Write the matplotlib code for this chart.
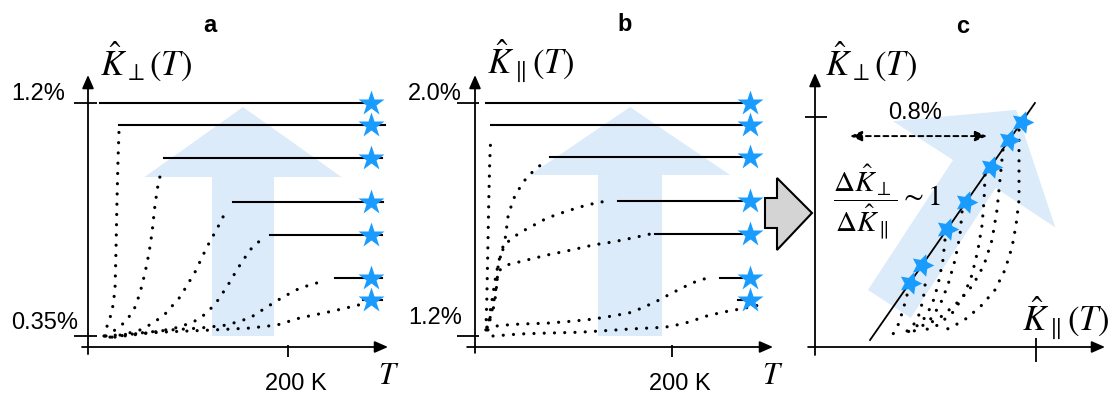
import matplotlib.pyplot as plt
from matplotlib.patches import Polygon, FancyArrow

plt.rcParams['font.family'] = ['Liberation Sans', 'DejaVu Sans']
plt.rcParams['mathtext.fontset'] = 'stix'

# ---------------- data ----------------
# plateau (low-temperature) anisotropy of the seven samples, in %
k_perp_final = [1.20, 1.12, 1.00, 0.84, 0.72, 0.56, 0.48]
k_par_final = [2.00, 1.924, 1.815, 1.664, 1.550, 1.399, 1.324]

# panel a: plateau start / end temperatures (K)
a_plateau_start = [12, 31, 76, 145, 182, 247, 275]
a_plateau_end = [277, 297, 294, 295, 294, 294, 294]
a_star_T = 283

# panel a: dotted onset curves (T in K, K_perp in %)
a_curve_T = [
    [16, 20, 24, 27, 28, 29, 30, 31],
    [18, 30, 39, 47, 52, 57, 61, 64, 67, 70, 74],
    [22, 37, 52, 65, 77, 92, 107, 119, 130, 139],
    [27, 52, 72, 92, 107, 119, 130, 140, 150, 162, 177],
    [24, 52, 82, 112, 139, 162, 179, 195, 212, 232],
    [17, 42, 79, 125, 162, 189, 212, 245, 275],
]
a_curve_K = [
    [0.35, 0.397, 0.438, 0.518, 0.664, 0.846, 0.992, 1.098],
    [0.35, 0.379, 0.408, 0.455, 0.507, 0.580, 0.653, 0.726, 0.828, 0.901, 0.963],
    [0.346, 0.357, 0.372, 0.397, 0.430, 0.492, 0.583, 0.675, 0.748, 0.813],
    [0.346, 0.357, 0.368, 0.383, 0.405, 0.434, 0.481, 0.536, 0.598, 0.664, 0.715],
    [0.346, 0.361, 0.372, 0.379, 0.390, 0.416, 0.456, 0.492, 0.525, 0.547],
    [0.35, 0.357, 0.365, 0.372, 0.379, 0.390, 0.416, 0.441, 0.467],
]

# panel b: plateau start / end temperatures (K)
b_plateau_start = [11, 16, 76, 145, 183, 249, 267]
b_plateau_end = [271, 271, 271, 271, 271, 271, 276]
b_star_T = 279

# panel b: dotted onset curves (T in K, K_par in %)
b_curve_T = [
    [11, 12, 13, 14, 15, 16],
    [12.2, 15.2, 18.3, 20.3, 22.3, 23.4, 27.4, 30.5, 33.5, 38.6, 42.6, 52.8, 62.9, 73.1],
    [12.2, 17.3, 21.3, 25.4, 30.5, 35.5, 45.7, 58.9, 73.1, 93.4, 113.7, 134.0],
    [13.2, 17.3, 20.3, 22.3, 25.4, 32.5, 52.8, 73.1, 93.4, 120.8, 140.1, 160.4, 177.7],
    [12.2, 28.4, 45.7, 73.1, 99.5, 119.8, 138.1, 156.3, 169.5, 184.8, 198.0, 220.3, 235.5],
    [18.3, 45.7, 73.1, 106.6, 140.1, 157.4, 174.6, 191.9, 200.0, 217.3, 234.5, 251.8, 268.0, 288.3],
]
b_curve_K = [
    [1.221, 1.324, 1.495, 1.667, 1.804, 1.883],
    [1.230, 1.262, 1.289, 1.324, 1.382, 1.437, 1.495, 1.530, 1.609, 1.667, 1.694, 1.746, 1.777, 1.804],
    [1.221, 1.324, 1.410, 1.475, 1.513, 1.530, 1.555, 1.579, 1.605, 1.629, 1.650, 1.664],
    [1.221, 1.289, 1.341, 1.392, 1.427, 1.444, 1.461, 1.478, 1.492, 1.513, 1.523, 1.537, 1.550],
    [1.230, 1.237, 1.241, 1.244, 1.251, 1.258, 1.268, 1.279, 1.296, 1.320, 1.344, 1.382, 1.399],
    [1.200, 1.207, 1.210, 1.213, 1.220, 1.224, 1.227, 1.230, 1.234, 1.248, 1.268, 1.282, 1.292, 1.306],
]

# panel c: dotted K_par(T) vs K_perp(T) trajectories
c_curve_par = [
    [1.982, 1.982, 1.964, 1.940, 1.897, 1.837, 1.759, 1.668, 1.578, 1.505],
    [1.885, 1.867, 1.849, 1.819, 1.771, 1.704, 1.614, 1.517, 1.415],
    [1.777, 1.771, 1.759, 1.734, 1.698, 1.650, 1.584, 1.493, 1.384],
    [1.638, 1.626, 1.596, 1.553, 1.505, 1.445, 1.366, 1.294],
    [1.535, 1.523, 1.493, 1.457, 1.397, 1.324, 1.264],
    [1.415, 1.403, 1.372, 1.324, 1.252],
    [1.306, 1.282, 1.252, 1.222],
]
c_curve_perp = [
    [1.164, 0.851, 0.739, 0.641, 0.538, 0.449, 0.382, 0.323, 0.283, 0.261],
    [1.075, 0.941, 0.806, 0.672, 0.561, 0.471, 0.395, 0.332, 0.288],
    [0.963, 0.851, 0.739, 0.628, 0.516, 0.426, 0.350, 0.292, 0.261],
    [0.798, 0.695, 0.583, 0.471, 0.382, 0.315, 0.270, 0.252],
    [0.672, 0.583, 0.471, 0.382, 0.306, 0.265, 0.252],
    [0.471, 0.404, 0.323, 0.270, 0.252],
    [0.426, 0.359, 0.292, 0.252],
]
# linear trend through the end points
c_line_par = [1.083, 2.078]
c_line_perp = [0.225, 1.285]

# ---------------- styling ----------------
STAR = '#1a9cff'
PALE = '#dcebfa'
DOT = dict(color='black', lw=2.3, linestyle=(0, (0.01, 3.2)),
           dash_capstyle='round', clip_on=False, zorder=3)
SOLID = dict(color='black', lw=1.5, clip_on=False, zorder=3)
AX_LW = 1.3
MATH_SIZE = 25
TICK_SIZE = 17
PANEL_SIZE = 17

W, H = 1110, 397
fig = plt.figure(figsize=(W / 100, H / 100), dpi=100)


def panel(px_l, px_r, px_t, px_b, xlim, ylim):
    ax = fig.add_axes([px_l / W, 1 - px_b / H, (px_r - px_l) / W, (px_b - px_t) / H])
    ax.set_xlim(*xlim)
    ax.set_ylim(*ylim)
    ax.axis('off')
    return ax


def axis_arrow(ax, start, end):
    ax.annotate('', xy=end, xytext=start, annotation_clip=False,
                arrowprops=dict(arrowstyle='-|>,head_length=0.8,head_width=0.35',
                                mutation_scale=10, lw=AX_LW, color='black',
                                shrinkA=0, shrinkB=0))


def segment(ax, xs, ys, lw=AX_LW):
    ax.plot(xs, ys, color='black', lw=lw, clip_on=False, solid_capstyle='butt')


# ---------------- panel a ----------------
axa = panel(88, 388, 75, 347, (0, 300), (0.30987, 1.30215))
axa.add_patch(FancyArrow(155, 0.35, 0, 0.835, width=62, head_width=197,
                         head_length=0.255, length_includes_head=True,
                         fc=PALE, ec='none', zorder=0))
axis_arrow(axa, (-6, 0.30987), (300, 0.30987))
axis_arrow(axa, (0, 0.284), (0, 1.302))
for k in (1.2, 0.35):
    segment(axa, [-14, 9], [k, k])
segment(axa, [200, 200], [0.317, 0.273])
for T, K in zip(a_curve_T, a_curve_K):
    axa.plot(T, K, **DOT)
for k, t0, t1 in zip(k_perp_final, a_plateau_start, a_plateau_end):
    axa.plot([t0, t1], [k, k], **SOLID)
axa.plot([a_star_T] * 7, k_perp_final, ls='none', marker='*', ms=19,
         mfc=STAR, mec='none', clip_on=False, zorder=5)
axa.text(-23, 1.233, '1.2%', ha='right', va='center', fontsize=TICK_SIZE)
axa.text(-10, 0.397, '0.35%', ha='right', va='center', fontsize=TICK_SIZE)
axa.text(208, 0.175, '200 K', ha='center', va='center', fontsize=TICK_SIZE)
axa.text(301, 0.204, r'$T$', ha='center', va='center', fontsize=22)
axa.text(12, 1.353, r'$\hat{K}_{\perp}(T)$', ha='left', va='center', fontsize=MATH_SIZE)
axa.text(121.5, 1.4845, 'a', ha='center', va='center', fontsize=PANEL_SIZE, fontweight='bold')

# ---------------- panel b ----------------
axb = panel(475, 773, 75, 347, (0, 302.54), (1.16223, 2.09614))
axb.add_patch(FancyArrow(157.4, 1.2, 0, 0.786, width=65, head_width=203,
                         head_length=0.233, length_includes_head=True,
                         fc=PALE, ec='none', zorder=0))
axis_arrow(axb, (-8, 1.16223), (302.54, 1.16223))
axis_arrow(axb, (0, 1.142), (0, 2.096))
for k in (2.0, 1.2):
    segment(axb, [-18.3, 4], [k, k])
segment(axb, [200, 200], [1.169, 1.128])
for T, K in zip(b_curve_T, b_curve_K):
    axb.plot(T, K, **DOT)
for k, t0, t1 in zip(k_par_final, b_plateau_start, b_plateau_end):
    axb.plot([t0, t1], [k, k], **SOLID)
axb.plot([b_star_T] * 7, k_par_final, ls='none', marker='*', ms=19,
         mfc=STAR, mec='none', clip_on=False, zorder=5)
axb.text(-13.2, 2.031, '2.0%', ha='right', va='center', fontsize=TICK_SIZE)
axb.text(-13.2, 1.262, '1.2%', ha='right', va='center', fontsize=TICK_SIZE)
axb.text(208, 1.035, '200 K', ha='center', va='center', fontsize=TICK_SIZE)
axb.text(302.5, 1.063, r'$T$', ha='center', va='center', fontsize=22)
axb.text(12.2, 2.144, r'$\hat{K}_{\parallel}(T)$', ha='left', va='center', fontsize=MATH_SIZE)
axb.text(152.3, 2.268, 'b', ha='center', va='center', fontsize=PANEL_SIZE, fontweight='bold')

# ---------------- panel c ----------------
axc = panel(815, 1105, 73, 347, (0.75075, 2.50091), (0.19374, 1.41914))
axc.add_patch(Polygon([(1.0706, 0.4487), (1.5836, 1.0301), (1.2209, 1.2036),
                       (1.965, 1.2541), (2.201, 0.7286), (1.8413, 0.9053),
                       (1.3283, 0.3239)], closed=True, fc=PALE, ec='none',
                      zorder=0, clip_on=False))
axis_arrow(axc, (0.709, 0.19374), (2.50091, 0.19374))
axis_arrow(axc, (0.75075, 0.158), (0.75075, 1.419))
segment(axc, [0.690, 0.823], [1.222, 1.222])
segment(axc, [2.0845, 2.0845], [0.234, 0.127])
for X, Y in zip(c_curve_par, c_curve_perp):
    axc.plot(X, Y, **DOT)
axc.plot(c_line_par, c_line_perp, color='black', lw=1.3, zorder=4, clip_on=False)
axc.plot(k_par_final, k_perp_final, ls='none', marker=(5, 1, -18), ms=17,
         mfc=STAR, mec='none', clip_on=False, zorder=5)
axc.annotate('', xy=(0.962, 1.137), xytext=(1.789, 1.137), annotation_clip=False,
             arrowprops=dict(arrowstyle='<|-|>,head_length=0.7,head_width=0.3',
                             mutation_scale=10, lw=1.4, ls=(0, (2.5, 2)),
                             color='black', shrinkA=0, shrinkB=0))
axc.text(1.354, 1.240, '0.8%', ha='center', va='center', fontsize=TICK_SIZE)
axc.text(0.859, 0.842,
         r'$\dfrac{\Delta\hat{K}_{\perp}}{\Delta\hat{K}_{\parallel}}\sim 1$',
         ha='left', va='center', fontsize=21)
axc.text(0.811, 1.473, r'$\hat{K}_{\perp}(T)$', ha='left', va='center', fontsize=MATH_SIZE)
axc.text(2.0, 0.3234, r'$\hat{K}_{\parallel}(T)$', ha='left', va='center', fontsize=MATH_SIZE)
axc.text(1.644, 1.629, 'c', ha='center', va='center', fontsize=PANEL_SIZE, fontweight='bold')

# ---------------- connector arrow between b and c ----------------
deco = fig.add_axes([0, 0, 1, 1])
deco.set_xlim(0, W)
deco.set_ylim(H, 0)
deco.axis('off')
deco.add_patch(Polygon([(765, 198), (777, 198), (777, 178), (812, 213),
                        (777, 250), (777, 228), (765, 228)], closed=True,
                       fc='#d4d4d4', ec='black', lw=1.5, joinstyle='miter'))

fig.savefig('out.png', dpi=100)
